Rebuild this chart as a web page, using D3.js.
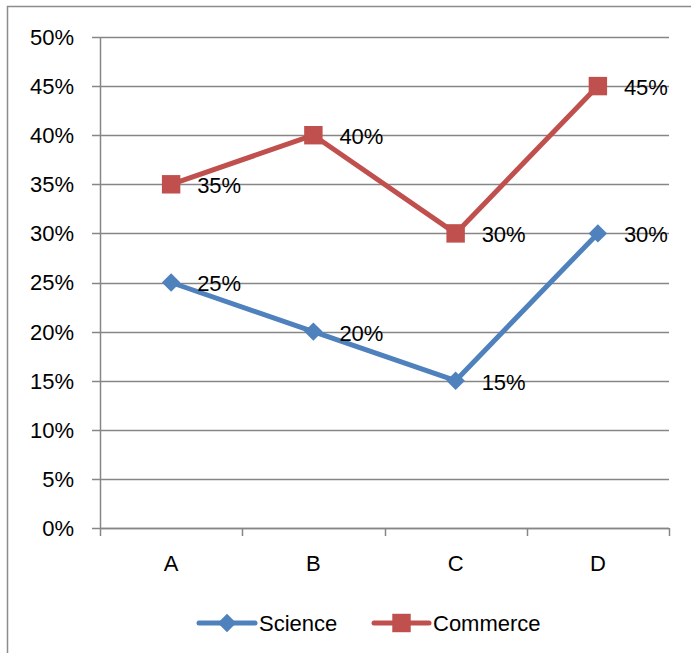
<!DOCTYPE html>
<html>
<head>
<meta charset="utf-8">
<script src="https://cdn.jsdelivr.net/npm/d3@7"></script>
<style>
  body { margin: 0; background: #fff; }
  text { font-family: "Liberation Sans", Arial, sans-serif; fill: #000; }
</style>
</head>
<body>
<script>
// chart data
const categories = ["A", "B", "C", "D"];
const science = [25, 20, 15, 30];
const commerce = [35, 40, 30, 45];
const yTicks = [0, 5, 10, 15, 20, 25, 30, 35, 40, 45, 50];

const W = 691, H = 653;
const margin = {top: 37, left: 100, right: 22, bottom: 125};
const width = W - margin.left - margin.right,
      height = H - margin.top - margin.bottom;

const svg = d3.select("body").append("svg")
  .attr("width", W)
  .attr("height", H);

// outer frame (only top and left edges visible)
svg.append("path")
  .attr("d", "M7.5," + H + "V6.5H" + W)
  .attr("fill", "none")
  .attr("stroke", "#8c8c8c")
  .attr("stroke-width", 1.5);

const g = svg.append("g")
  .attr("transform", "translate(" + margin.left + "," + margin.top + ")");

const x = d3.scaleBand().domain(categories).range([0, width]);
const y = d3.scaleLinear().domain([0, 50]).range([height, 0]);

const axisColor = "#868686";
const fontSize = "22px";

// gridlines
g.append("g")
  .selectAll("line")
  .data(yTicks)
  .enter()
  .append("line")
    .attr("x1", -8)
    .attr("x2", width)
    .attr("y1", d => Math.round(y(d)) + 0.5)
    .attr("y2", d => Math.round(y(d)) + 0.5)
    .attr("stroke", axisColor)
    .attr("stroke-width", 1.5);

// y axis line
g.append("line")
  .attr("x1", 0.5).attr("x2", 0.5)
  .attr("y1", 0).attr("y2", height)
  .attr("stroke", axisColor)
  .attr("stroke-width", 1.5);

// y labels
g.append("g")
  .selectAll("text")
  .data(yTicks)
  .enter()
  .append("text")
    .attr("x", -26)
    .attr("y", d => y(d))
    .attr("dy", "0.36em")
    .attr("text-anchor", "end")
    .style("font-size", fontSize)
    .text(d => d + "%");

// x axis line and ticks
g.append("line")
  .attr("x1", 0).attr("x2", width)
  .attr("y1", height + 0.5).attr("y2", height + 0.5)
  .attr("stroke", axisColor)
  .attr("stroke-width", 1.5);

const bounds = categories.map(c => x(c)).concat([width]);
g.append("g")
  .selectAll("line")
  .data(bounds)
  .enter()
  .append("line")
    .attr("x1", d => Math.round(d) + 0.5)
    .attr("x2", d => Math.round(d) + 0.5)
    .attr("y1", height)
    .attr("y2", height + 8)
    .attr("stroke", axisColor)
    .attr("stroke-width", 1.5);

g.append("g")
  .selectAll("text")
  .data(categories)
  .enter()
  .append("text")
    .attr("x", d => x(d) + x.bandwidth() / 2)
    .attr("y", height + 43)
    .attr("text-anchor", "middle")
    .style("font-size", fontSize)
    .text(d => d);

// diamond = square rotated by 45deg
const series = [
  {name: "Science", values: science, color: "#4F81BD", symbol: d3.symbolSquare, size: 170, rot: 45},
  {name: "Commerce", values: commerce, color: "#C0504D", symbol: d3.symbolSquare, size: 340, rot: 0}
];

const line = d3.line()
  .x((d, i) => x(categories[i]) + x.bandwidth() / 2)
  .y(d => y(d));

series.forEach(s => {
  g.append("path")
    .datum(s.values)
    .attr("d", line)
    .attr("fill", "none")
    .attr("stroke", s.color)
    .attr("stroke-width", 5)
    .attr("stroke-linejoin", "round")
    .attr("stroke-linecap", "round");

  g.append("g")
    .selectAll("path")
    .data(s.values)
    .enter()
    .append("path")
      .attr("d", d3.symbol().type(s.symbol).size(s.size))
      .attr("transform", (d, i) => "translate(" + (x(categories[i]) + x.bandwidth() / 2) + "," + y(d) + ") rotate(" + s.rot + ")")
      .attr("fill", s.color);

  g.append("g")
    .selectAll("text")
    .data(s.values)
    .enter()
    .append("text")
      .attr("x", (d, i) => x(categories[i]) + x.bandwidth() / 2 + 26)
      .attr("y", d => y(d) + 1)
      .attr("dy", "0.36em")
      .style("font-size", fontSize)
      .text(d => d + "%");
});

// legend
const legendY = 623;
const legendItems = [
  {s: series[0], x1: 199, x2: 255, tx: 259},
  {s: series[1], x1: 374, x2: 429, tx: 433}
];
legendItems.forEach(l => {
  svg.append("line")
    .attr("x1", l.x1).attr("x2", l.x2)
    .attr("y1", legendY).attr("y2", legendY)
    .attr("stroke", l.s.color)
    .attr("stroke-width", 5)
    .attr("stroke-linecap", "round");
  svg.append("path")
    .attr("d", d3.symbol().type(l.s.symbol).size(l.s.size))
    .attr("transform", "translate(" + ((l.x1 + l.x2) / 2) + "," + legendY + ") rotate(" + l.s.rot + ")")
    .attr("fill", l.s.color);
  svg.append("text")
    .attr("x", l.tx)
    .attr("y", legendY)
    .attr("dy", "0.36em")
    .style("font-size", fontSize)
    .text(l.s.name);
});
</script>
</body>
</html>
